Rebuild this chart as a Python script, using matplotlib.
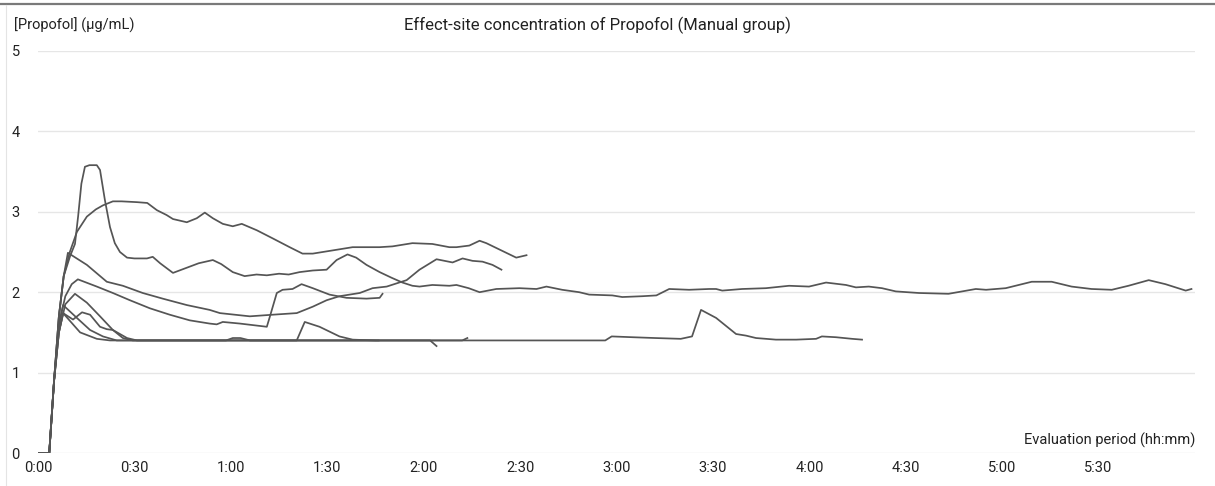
import matplotlib
matplotlib.use("Agg")
import matplotlib.pyplot as plt
from matplotlib.lines import Line2D

# minutes after induction, effect-site concentration (ug/mL) per patient
a_t = [0, 3.5, 5, 6.5, 8, 10, 11.5, 12.5, 13.5, 14.6, 16, 18.3, 19.3, 20.8, 22.4, 23.9, 25.5,
       27.7, 30, 33.9, 35.7, 38, 42, 46, 50, 54.4, 57, 60.6, 64.3, 68, 71.2, 75, 78, 81.4,
       85.5, 89.8, 92.9, 96.3, 99, 102.2, 106.3, 110, 113.4, 116.5, 118.7, 122.7, 128, 130.2,
       134, 137.4, 142.6, 149.8, 155.1, 158.2, 163.1, 168.4, 171.5, 178.7, 181.8, 188, 192.4,
       196.4, 202.6, 208.8, 211, 212.9, 219.1, 226.5, 233.7, 239.9, 245.2, 251.4, 254.5,
       258.5, 262.6, 266.9, 274.1, 283.3, 291.8, 295, 301.1, 309.2, 315.4, 321.6, 327.8,
       334.1, 339.3, 345.6, 350.8, 357.1, 358.9]
a_c = [0, 0, 0.9, 1.7, 2.2, 2.45, 2.6, 2.95, 3.35, 3.56, 3.58, 3.58, 3.52, 3.15, 2.81, 2.61, 2.50,
       2.43, 2.42, 2.42, 2.44, 2.36, 2.24, 2.3, 2.36, 2.40, 2.35, 2.25, 2.20, 2.22, 2.21, 2.23, 2.22, 2.25,
       2.27, 2.28, 2.40, 2.47, 2.43, 2.34, 2.25, 2.18, 2.12, 2.08, 2.07, 2.09, 2.08, 2.09,
       2.05, 2.00, 2.04, 2.05, 2.04, 2.07, 2.03, 2.00, 1.97, 1.96, 1.94, 1.95, 1.96,
       2.04, 2.03, 2.04, 2.04, 2.02, 2.04, 2.05, 2.08, 2.07, 2.12, 2.09, 2.06,
       2.07, 2.05, 2.01, 1.99, 1.98, 2.04, 2.03, 2.05, 2.13, 2.13, 2.07, 2.04,
       2.03, 2.08, 2.15, 2.10, 2.02, 2.04]

b_t = [0, 3.5, 5, 6.5, 8, 9.9, 12.1, 15.2, 18, 20.2, 23.3, 26, 30.8, 34, 37, 40, 42, 46.3, 49.4,
       51.9, 54.4, 57.5, 60.6, 63.4, 68.1, 73, 78.3, 82.3, 85.5, 91.7, 97.9, 106.3, 110.3, 116.5,
       122.7, 128, 130.2, 134.2, 137.4, 139.5, 142.6, 148.8, 152]
b_c = [0, 0, 0.9, 1.7, 2.2, 2.5, 2.75, 2.94, 3.03, 3.08, 3.13, 3.13, 3.12, 3.11, 3.02, 2.96, 2.91, 2.87, 2.92,
       2.99, 2.92, 2.85, 2.82, 2.85, 2.77, 2.67, 2.56, 2.48, 2.48, 2.52, 2.56, 2.56, 2.57, 2.61,
       2.60, 2.56, 2.56, 2.58, 2.64, 2.61, 2.55, 2.43, 2.46]

c_t = [0, 3.5, 5, 6.5, 8, 9.3, 15.2, 21.4, 26.4, 32.6, 38.8, 46.3, 53.4, 56.6, 65.9, 73, 80.5, 85.5,
       89.8, 93.8, 100.1, 104.1, 108.5, 114.7, 118.7, 124.0, 129, 132.1, 135.2, 138.3, 141.4, 144.2]
c_c = [0, 0, 0.9, 1.7, 2.2, 2.49, 2.34, 2.13, 2.08, 1.99, 1.92, 1.84, 1.78, 1.74, 1.70, 1.72, 1.74, 1.82,
       1.90, 1.95, 1.99, 2.05, 2.07, 2.15, 2.28, 2.41, 2.37, 2.42, 2.39, 2.38, 2.34, 2.28]

d_t = [0, 3.5, 5, 6.5, 8.5, 10.5, 12.4, 18.3, 23.3, 28.6, 34.8, 41, 47.2, 53.4, 55.6, 57.5, 62.8,
       71.2, 72.1, 74.3, 76.1, 79.2, 82, 85.5, 90.7, 96, 102.2, 106.3, 107.2]
d_c = [0, 0, 0.9, 1.6, 1.95, 2.1, 2.16, 2.07, 1.99, 1.90, 1.80, 1.72, 1.65, 1.61, 1.60, 1.63, 1.61,
       1.57, 1.69, 1.99, 2.03, 2.04, 2.10, 2.05, 1.97, 1.93, 1.92, 1.93, 1.98]

e_t = [0, 3.5, 5, 6.5, 8.5, 11.5, 15.2, 19.3, 23.3, 27.7, 30.8, 100, 150, 176.5, 178.5, 185, 192,
       200, 203.5, 205.2, 206.3, 211, 217.2, 220.3, 223.4, 229.6, 235.9, 242.1, 243.9, 248.3,
       253.3, 256.4]
e_c = [0, 0, 0.9, 1.5, 1.85, 1.98, 1.87, 1.70, 1.53, 1.43, 1.40, 1.40, 1.40, 1.40, 1.45, 1.44, 1.43,
       1.42, 1.45, 1.65, 1.78, 1.68, 1.48, 1.46, 1.43, 1.41, 1.41, 1.42, 1.45, 1.44,
       1.42, 1.41]

f_t = [0, 3.5, 5, 6.5, 7.8, 12.1, 16.2, 20.2, 24.5, 80, 120, 132, 133.6]
f_c = [0, 0, 0.9, 1.6, 1.84, 1.68, 1.53, 1.45, 1.40, 1.40, 1.40, 1.40, 1.43]

g_t = [0, 3.5, 5, 6.5, 7.8, 10.9, 13.7, 16.2, 19.3, 21.4, 23.3, 26.4, 29.5, 58.5, 60.6, 63, 66,
       90, 106]
g_c = [0, 0, 0.9, 1.5, 1.74, 1.66, 1.75, 1.72, 1.57, 1.54, 1.53, 1.43, 1.40, 1.40, 1.43, 1.43, 1.40,
       1.40, 1.40]

h_t = [0, 3.5, 5, 6.5, 7.8, 13.1, 18.3, 22.4, 60, 80.5, 83, 87.6, 93.8, 97.9, 105, 122, 124]
h_c = [0, 0, 0.9, 1.5, 1.74, 1.50, 1.42, 1.40, 1.40, 1.40, 1.63, 1.57, 1.45, 1.41, 1.40, 1.40, 1.33]

patients = [(a_t, a_c), (b_t, b_c), (c_t, c_c), (d_t, d_c),
            (e_t, e_c), (f_t, f_c), (g_t, g_c), (h_t, h_c)]

tick_minutes = [0, 30, 60, 90, 120, 150, 180, 210, 240, 270, 300, 330]
tick_labels = ["0:00", "0:30", "1:00", "1:30", "2:00", "2:30",
               "3:00", "3:30", "4:00", "4:30", "5:00", "5:30"]
y_ticks = [0, 1, 2, 3, 4, 5]

plt.rcParams["font.family"] = ["Roboto", "DejaVu Sans"]

fig = plt.figure(figsize=(12.15, 4.86), dpi=100)
ax = fig.add_axes([38 / 1215, 1 - 453 / 486, (1195 - 38) / 1215, (453 - 51) / 486])

for t, c in patients:
    ax.plot(t, c, color="#555555", lw=1.25, solid_joinstyle="round", zorder=3)

ax.set_xlim(0, 360)
ax.set_ylim(0, 5)
ax.set_xticks(tick_minutes)
ax.set_xticklabels(tick_labels)
ax.set_yticks(y_ticks)
ax.set_yticklabels([str(v) for v in y_ticks], ha="left")
ax.tick_params(axis="both", length=0, labelsize=10.5, colors="#222222")
ax.tick_params(axis="y", pad=19)
ax.tick_params(axis="x", pad=6)
ax.grid(axis="y", color="#e6e6e6", lw=1)
for s in ax.spines.values():
    s.set_visible(False)

fig.text(597 / 1215, 1 - 25 / 486, "Effect-site concentration of Propofol (Manual group)",
         ha="center", va="center", fontsize=12, color="#222222")
fig.text(14 / 1215, 1 - 25 / 486, "[Propofol] (\u03bcg/mL)",
         ha="left", va="center", fontsize=10.5, color="#222222")
fig.text(1195 / 1215, 1 - 440 / 486, "Evaluation period (hh:mm)",
         ha="right", va="center", fontsize=10.5, color="#222222")

# frame edges of the exported chart
fig.add_artist(Line2D([0, 1], [1 - 4 / 486, 1 - 4 / 486], transform=fig.transFigure,
                      color="#7a7a7a", lw=1.6))
fig.add_artist(Line2D([6 / 1215, 6 / 1215], [0, 1 - 5 / 486], transform=fig.transFigure,
                      color="#e4e4e4", lw=0.8))

fig.savefig("out.png", dpi=100)
